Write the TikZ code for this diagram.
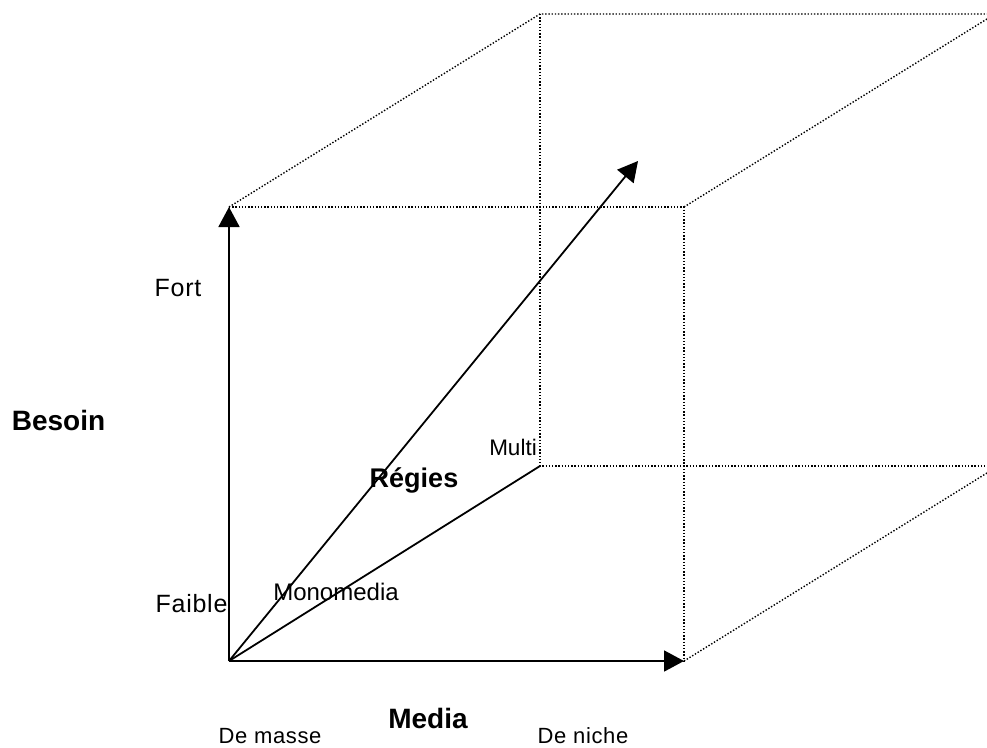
\documentclass[tikz,border=0pt]{standalone}
\usepackage{fontspec}
\setmainfont{Liberation Sans}
\newfontfamily\spaced[LetterSpace=3]{Liberation Sans}
\usetikzlibrary{arrows.meta}
\begin{document}
\begin{tikzpicture}[x=1pt,y=-1pt,
  axis/.style={line width=1.8pt,-{Triangle[length=20pt,width=21pt]}},
  plain/.style={line width=1.8pt},
  dots/.style={line width=1.4pt,dash pattern=on 1.4pt off 1.8pt},
  lbl/.style={anchor=base,inner sep=0pt,font=\fontsize{#1}{#1}\selectfont\spaced},
  lblb/.style={anchor=base,inner sep=0pt,font=\fontsize{#1}{#1}\selectfont\bfseries},
  tight/.style={anchor=base,inner sep=0pt,font=\fontsize{#1}{#1}\selectfont}]
\useasboundingbox (0,0) rectangle (987,747);
\clip (0,0) rectangle (987,747);
\coordinate (O) at (229,661);
\coordinate (FTL) at (229,207);
\coordinate (FTR) at (684,207);
\coordinate (FBR) at (684,661);
\coordinate (BTL) at (540,14);
\coordinate (BTR) at (1000,14);
\coordinate (BBL) at (540,466);
\coordinate (BBR) at (1000,466);
\coordinate (BTRd) at (995,14);
\coordinate (BBRd) at (995,468);
\coordinate (R) at (638,161);
% dotted cube edges
\draw[dots] (FTL) -- (FTR) -- (FBR);
\draw[dots] (FTL) -- (BTL) -- (BTR);
\draw[dots] (BTL) -- (BBL) -- (BBR);
\draw[dots] (FTR) -- (BTRd);
\draw[dots] (FBR) -- (BBRd);
% axes
\draw[axis] (O) -- (FTL);
\draw[axis] (O) -- (FBR);
\draw[axis] (O) -- (R);
\draw[plain] (O) -- (BBL);
% labels
\node[lbl=25] (fort) at (178,296) {Fort};
\node[lblb=28] (besoin) at (58.5,430) {Besoin};
\node[lbl=25] (faible) at (191.5,612) {Faible};
\node[tight=24] (mono) at (336,600) {Monomedia};
\node[tight=22.5] (multi) at (513,455) {Multi};
\node[lblb=27] (regies) at (414,487) {Régies};
\node[lblb=28] (media) at (428,728) {Media};
\node[lbl=22] (masse) at (270,743) {De masse};
\node[lbl=22] (niche) at (583,743) {De niche};
\end{tikzpicture}
\end{document}
